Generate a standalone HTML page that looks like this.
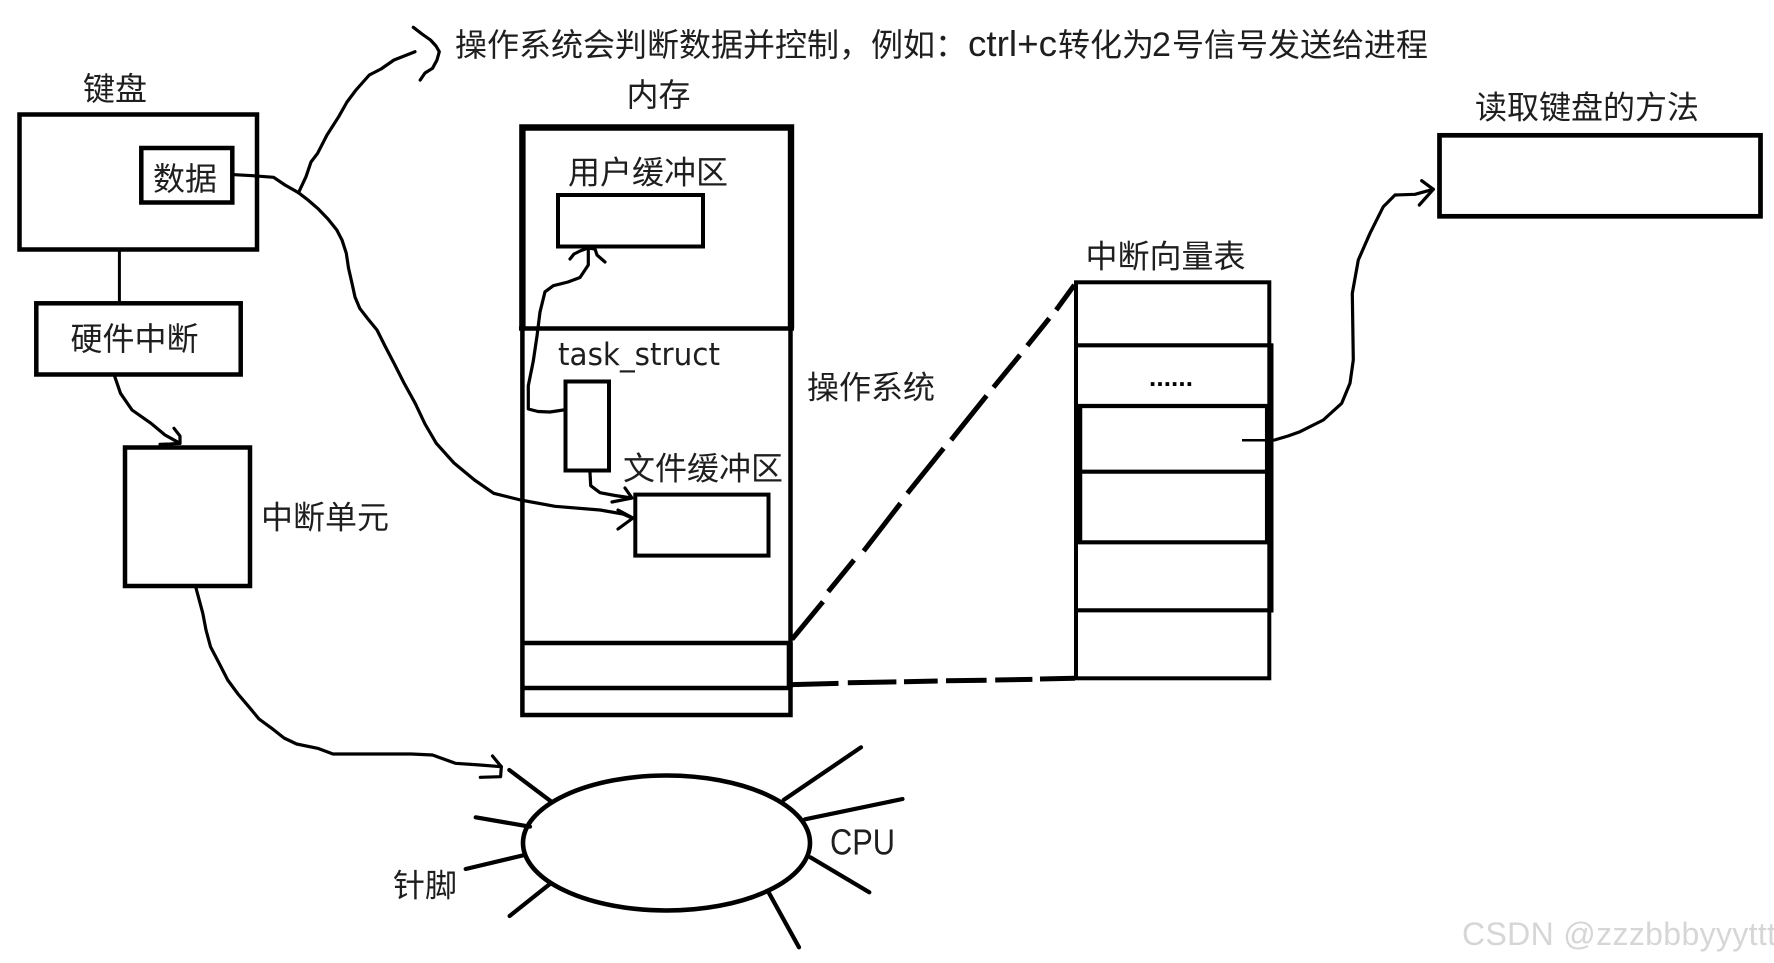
<!DOCTYPE html>
<html lang="zh">
<head>
<meta charset="utf-8">
<title>键盘中断</title>
<style>
html,body{margin:0;padding:0;background:#fff;width:1774px;height:963px;overflow:hidden}
svg{display:block}
text{font-family:"Liberation Sans","Noto Sans CJK SC",sans-serif;font-size:32px;fill:#1e1e1e}
.c{fill:none;stroke:#000;stroke-width:3.2;stroke-linejoin:round;stroke-linecap:round}
.b{fill:none;stroke:#000;stroke-width:4.5}
.p{stroke:#000;stroke-width:4.2;stroke-linecap:round;fill:none}
.d{stroke:#000;stroke-width:5;fill:none}
</style>
</head>
<body>
<svg width="1774" height="963" viewBox="0 0 1774 963" xmlns="http://www.w3.org/2000/svg">
<rect width="1774" height="963" fill="#fff"/>

<!-- keyboard -->
<rect class="b" x="19.5" y="114.5" width="237.5" height="135"/>
<rect class="b" x="141.3" y="148" width="91" height="54.5"/>
<line x1="119.4" y1="251" x2="119.4" y2="302" stroke="#000" stroke-width="3"/>
<rect class="b" x="36.3" y="303.3" width="204.4" height="71.2"/>
<rect class="b" x="125" y="447.5" width="125" height="138.5"/>

<!-- memory -->
<path d="M522.4 328.5V127.5H791V328.5" fill="none" stroke="#000" stroke-width="6.4"/>
<line x1="519" y1="328.5" x2="794" y2="328.5" stroke="#000" stroke-width="4.5"/>
<path d="M522.4 328V715H790.5V328" class="b"/>
<line x1="521" y1="643" x2="792" y2="643" stroke="#000" stroke-width="4.5"/>
<line x1="521" y1="688" x2="792" y2="688" stroke="#000" stroke-width="4.5"/>
<line x1="789.7" y1="643" x2="789.7" y2="688" stroke="#000" stroke-width="6"/>
<rect x="558" y="195" width="145" height="51.5" fill="none" stroke="#000" stroke-width="4"/>
<rect x="565.5" y="381.5" width="43.5" height="89" fill="none" stroke="#000" stroke-width="4"/>
<rect x="635.3" y="494.6" width="133.2" height="61" fill="none" stroke="#000" stroke-width="4"/>

<!-- interrupt table -->
<rect x="1076" y="282.3" width="193.3" height="396" fill="none" stroke="#000" stroke-width="4"/>
<g stroke="#000" stroke-width="4.2">
<line x1="1076" y1="345.3" x2="1273" y2="345.3"/>
<line x1="1076" y1="406" x2="1270" y2="406"/>
<line x1="1076" y1="471.7" x2="1270" y2="471.7"/>
<line x1="1076" y1="542.3" x2="1270" y2="542.3"/>
<line x1="1076" y1="610.3" x2="1273" y2="610.3"/>
</g>
<line x1="1079" y1="406" x2="1079" y2="542" stroke="#000" stroke-width="6.5"/>
<line x1="1270.8" y1="343.5" x2="1270.8" y2="612.5" stroke="#000" stroke-width="5.4"/>
<line x1="1269.2" y1="406" x2="1269.2" y2="542" stroke="#000" stroke-width="8.5"/>
<line x1="1242" y1="440.3" x2="1275" y2="440.3" stroke="#000" stroke-width="2.5"/>

<!-- dashed connectors -->
<g class="d" stroke="#000">
<line x1="792" y1="639.3" x2="823" y2="601.7"/>
<line x1="828.2" y1="591.7" x2="854" y2="560"/>
<line x1="863.7" y1="551" x2="900.5" y2="503.3"/>
<line x1="907.4" y1="493.3" x2="943.6" y2="448.3"/>
<line x1="951.1" y1="440" x2="986.6" y2="395.7"/>
<line x1="993.5" y1="387.3" x2="1020" y2="355"/>
<line x1="1027.3" y1="345.7" x2="1049.3" y2="318.3"/>
<line x1="1056.2" y1="310" x2="1074.4" y2="285"/>
<line x1="792" y1="684.6" x2="838.5" y2="683.4"/>
<line x1="847.8" y1="682.7" x2="896.4" y2="681.9"/>
<line x1="904" y1="681.7" x2="937.7" y2="681"/>
<line x1="946" y1="680.7" x2="986.6" y2="680.2"/>
<line x1="995.2" y1="680" x2="1032.4" y2="679.4"/>
<line x1="1040" y1="679" x2="1075" y2="678.3"/>
</g>

<!-- right box -->
<rect x="1439.5" y="135.3" width="321" height="81" fill="none" stroke="#000" stroke-width="4.7"/>

<!-- CPU -->
<ellipse cx="666.5" cy="843" rx="143.5" ry="67.5" fill="none" stroke="#000" stroke-width="4.6"/>
<g class="p">
<line x1="509.3" y1="770" x2="551.4" y2="801.7"/>
<line x1="475.7" y1="817.3" x2="530" y2="826.7"/>
<line x1="465.7" y1="869" x2="524.6" y2="855"/>
<line x1="509.6" y1="916" x2="550.7" y2="883.3"/>
<line x1="783.6" y1="800" x2="861" y2="747.3"/>
<line x1="805" y1="819.3" x2="902.5" y2="799"/>
<line x1="810.4" y1="857.3" x2="869.3" y2="892.3"/>
<line x1="768.6" y1="892.3" x2="799" y2="947.3"/>
</g>

<!-- freehand curves -->
<polyline class="c" points="234.6,174.7 252.6,175.7 273.6,177.3 285,185 298.5,192.7 308,200 317.6,208.3 328,219 336.8,230 342,240 346.3,253.3 348.5,268 352,283.3 355,297 359.7,308.3 368,319 377,330 385,346 394,363.3 404,383 415.2,403.3 425,424 436.3,443.3 454,463 474.5,480 493.7,493.3 520.5,500 555,506.3 600,510 623,514 632,518"/>
<polyline class="c" points="618,510 633,518 618,529"/>
<polyline class="c" points="590,472.7 590.7,485.7 600,492.7 615,495.5 631.7,498"/>
<polyline class="c" points="625,488 632,498 612,502"/>
<polyline class="c" points="563.3,410 550,412 538,411.5 528.3,409 528.3,385.7 533.3,361 537,336 540,312 545,291.8 553.3,285.7 568,282 580,277.5 588.3,265 588.3,249"/>
<polyline class="c" points="570,259 574,254 580,251 588,248 595,249 597,255 605,262"/>
<polyline class="c" points="298.5,192.7 306,176.7 311,162 317.6,153.3 327,135 338.7,116.7 347,102 356,90 369.3,75 381,69 394,60 415,51.7"/>
<polyline class="c" points="413.3,27.3 422,34 430.5,40 436,46 439.3,51.7 437,60 432.5,68.3 425,73 420.2,80"/>
<polyline class="c" points="114.8,376.7 120.5,393.3 132,410 151,423.3 165,435 180,443.3"/>
<polyline class="c" points="174,428.3 180,436 180,443.3 170,444 160,444.3"/>
<polyline class="c" points="196,588 202.8,613.3 206,630 210.5,646.7 219,663 227.7,680 238,694 248.8,706.7 259,719 271.7,728.3 284,738 296.6,744 317.6,748.3 333,754 411.4,754 432.5,755 455.4,763.3 480,765 501.3,766.7"/>
<polyline class="c" points="492.5,756 501.3,766.7 500.6,776.7 480.3,777.3"/>
<polyline class="c" points="1274.5,440 1288,436 1300,431.7 1323.3,420 1341.7,403.3 1350,383.3 1353.3,360 1352.3,293.3 1358.3,260 1370,233.3 1383.3,206.7 1395,195 1415,194.3 1433.3,189.3"/>
<polyline class="c" points="1421.7,180.7 1433.3,189.3 1419.3,205"/>

<!-- labels -->
<text x="455" y="56">操作系统会判断数据并控制，例如：</text>
<text x="968" y="56" textLength="89" lengthAdjust="spacingAndGlyphs" style="font-size:36px">ctrl+c</text>
<text x="1058" y="56">转化为</text>
<text x="1152" y="56" style="font-size:34px">2</text>
<text x="1172" y="56">号信号发送给进程</text>
<text x="83" y="100">键盘</text>
<text x="153" y="190">数据</text>
<text x="70.5" y="350">硬件中断</text>
<text x="626.5" y="106">内存</text>
<text x="261" y="528.5">中断单元</text>
<text x="568" y="183.5">用户缓冲区</text>
<text x="558" y="365" textLength="162" lengthAdjust="spacingAndGlyphs" style="font-family:'DejaVu Sans',sans-serif;font-size:31px">task_struct</text>
<text x="623" y="479.5">文件缓冲区</text>
<text x="807" y="398.5">操作系统</text>
<text x="1085.5" y="267.5">中断向量表</text>
<text x="1149" y="386" textLength="44" lengthAdjust="spacing" style="font-size:26px;font-weight:bold;fill:#000">......</text>
<text x="1475" y="118.5">读取键盘的方法</text>
<text x="830" y="854.5" textLength="65" lengthAdjust="spacingAndGlyphs" style="font-size:36px">CPU</text>
<text x="393" y="896.5">针脚</text>
<text x="1462" y="945" textLength="314" lengthAdjust="spacing" style="font-size:32px;fill:#d6d6d6">CSDN @zzzbbbyyyttt</text>
</svg>
</body>
</html>
